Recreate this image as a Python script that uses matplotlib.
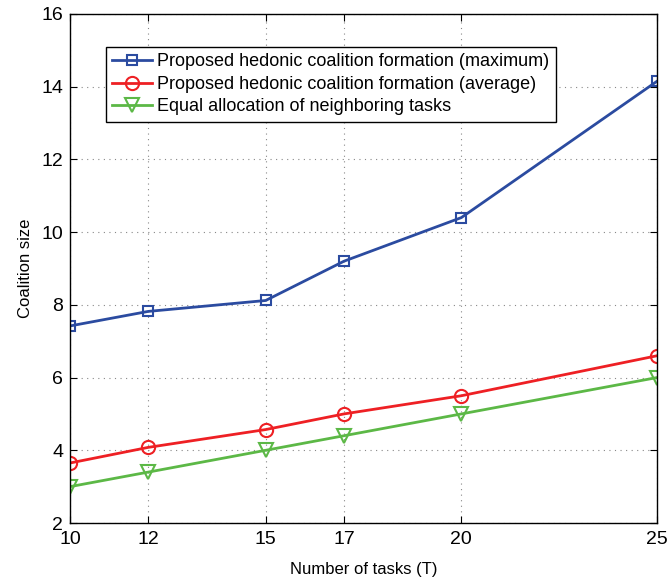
import matplotlib
matplotlib.use("Agg")
import matplotlib.pyplot as plt

# Number of tasks vs coalition size
tasks = [10, 12, 15, 17, 20, 25]
max_size = [7.42, 7.82, 8.12, 9.2, 10.4, 14.15]
avg_size = [3.65, 4.08, 4.57, 5.0, 5.5, 6.6]
equal_size = [3.0, 3.4, 4.0, 4.4, 5.0, 6.0]

labels = ["Proposed hedonic coalition formation (maximum)",
          "Proposed hedonic coalition formation (average)",
          "Equal allocation of neighboring tasks"]

plt.rcParams["font.family"] = ["Liberation Sans", "DejaVu Sans"]

fig = plt.figure(figsize=(6.67, 5.86), dpi=100)
ax = fig.add_axes([70 / 667, 63 / 586, 587 / 667, 509 / 586])

ax.plot(tasks, max_size, color="#2b4ba0", marker="s", markersize=7.5,
        markerfacecolor="none", markeredgewidth=1.5, linewidth=2, label=labels[0])
ax.plot(tasks, avg_size, color="#ee2024", marker="o", markersize=9.5,
        markerfacecolor="none", markeredgewidth=1.5, linewidth=2, label=labels[1])
ax.plot(tasks, equal_size, color="#5cb846", marker="v", markersize=9.5,
        markerfacecolor="none", markeredgewidth=1.5, linewidth=2, label=labels[2])

ax.set_xlim(10, 25)
ax.set_ylim(2, 16)
ax.set_xticks(tasks)
ax.set_yticks(range(2, 17, 2))
ax.tick_params(direction="in", labelsize=14, top=True, right=True, length=5)
ax.tick_params(axis="x", pad=6)
ax.tick_params(axis="y", pad=5)
ax.grid(True, linestyle=(0, (1, 4)), color="#888888", linewidth=0.8)
for s in ax.spines.values():
    s.set_linewidth(1.0)

ax.set_xlabel("Number of tasks (T)", fontsize=12, labelpad=10)
ax.set_ylabel("Coalition size", fontsize=12, labelpad=6)

leg = ax.legend(loc="upper left", bbox_to_anchor=(0.061, 0.935), fontsize=13,
                frameon=True, fancybox=False, edgecolor="black", framealpha=1,
                handlelength=2.2, borderpad=0.35, labelspacing=0.3,
                handletextpad=0.3, borderaxespad=0)
leg.get_frame().set_linewidth(1.0)

fig.savefig("out.png", dpi=100)
